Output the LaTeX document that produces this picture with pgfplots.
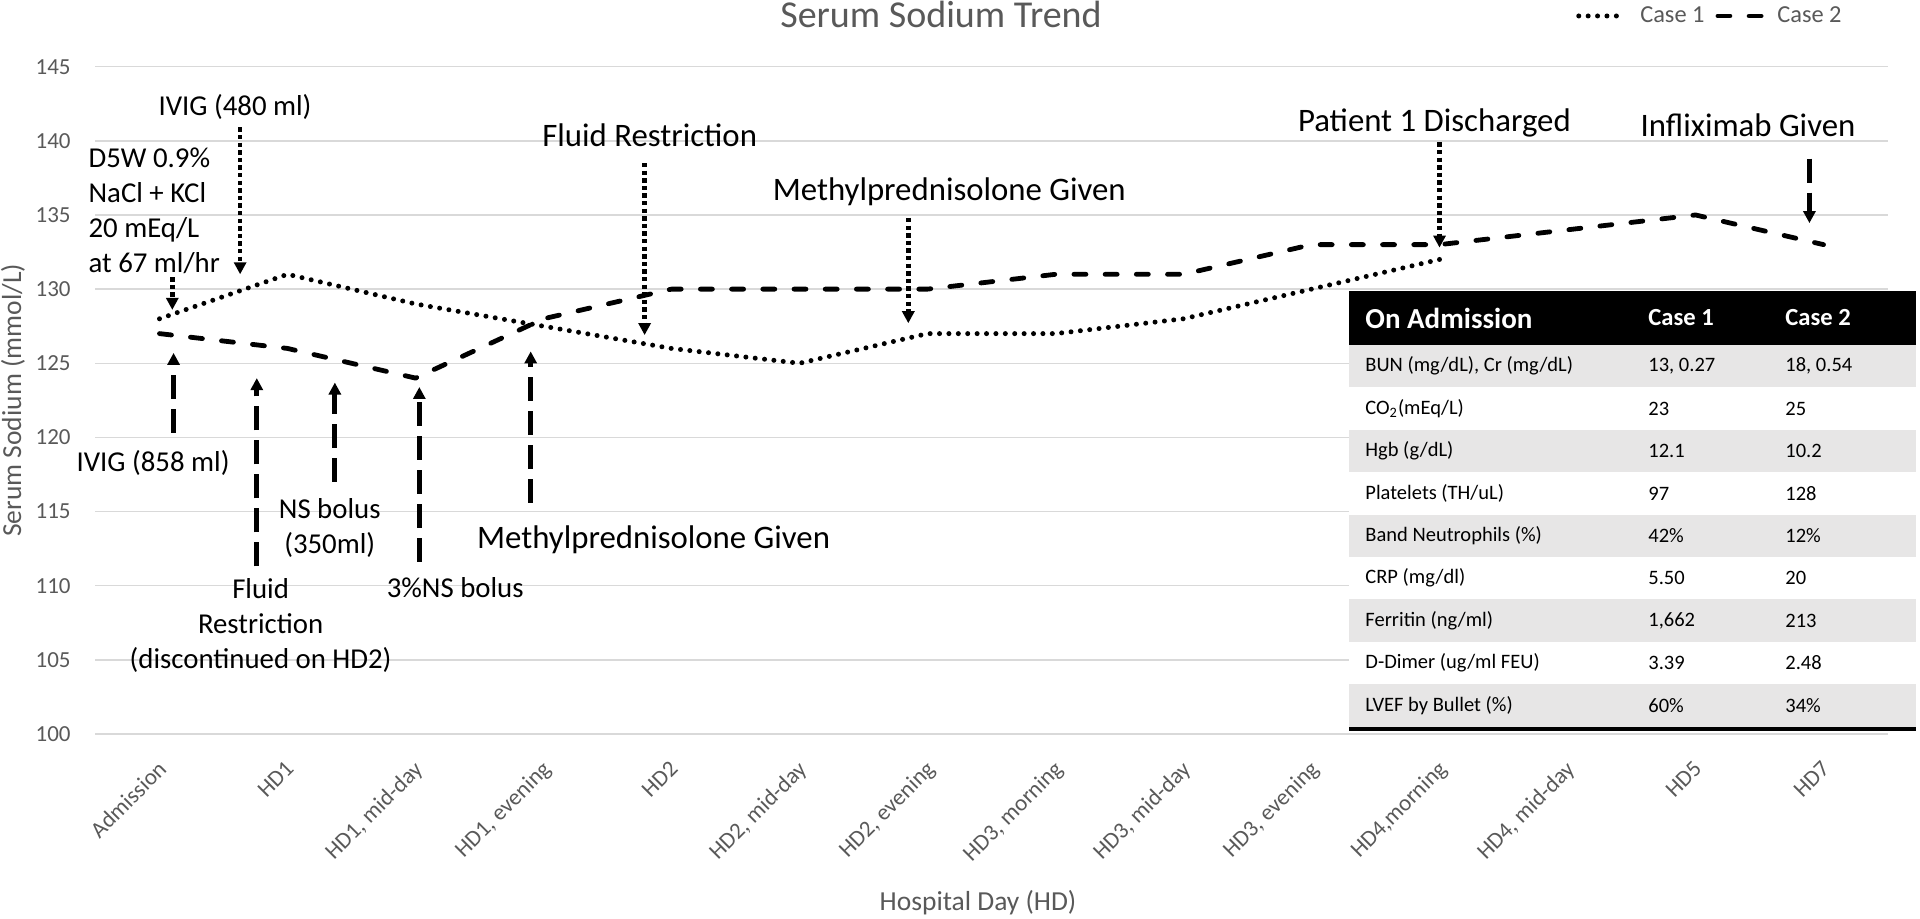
\documentclass[border=0pt]{standalone}
\usepackage{fontspec}
\setmainfont{Carlito}
\usepackage{pgfplots}
\pgfplotsset{compat=1.18}
\usetikzlibrary{arrows.meta}

\definecolor{labgray}{HTML}{595959}
\definecolor{gridgray}{HTML}{D9D9D9}
\definecolor{rowgray}{HTML}{E7E6E6}

\tikzset{
  small note/.style={font=\fontsize{14.4}{17.5}\selectfont, inner sep=0pt, align=center},
  big note/.style={font=\fontsize{16.4}{19.5}\selectfont, inner sep=0pt, align=center},
  dot arrow/.style={line width=2.2pt, dash pattern=on 2.2pt off 1.6pt, -{Triangle[width=6pt,length=6pt]}},
  dash arrow/.style={line width=2.4pt, dash pattern=on 12pt off 5pt, -{Triangle[width=6pt,length=6pt]}},
  cell/.style={anchor=west, inner sep=0pt, font=\fontsize{10.25}{12}\selectfont},
}
\pgfplotsset{
  case one legend/.style={legend image code/.code={\draw[##1] (0pt,0pt) -- (23pt,0pt);}},
  case two legend/.style={legend image code/.code={\draw[##1] (0pt,0pt) -- (22pt,0pt);}},
}

\begin{document}
\begin{tikzpicture}
\useasboundingbox (0,0) rectangle (960pt,459.5pt);
\begin{axis}[
  at={(47.75pt,92.5pt)}, anchor=south west,
  scale only axis, width=896pt, height=333.65pt,
  xmin=-0.5, xmax=13.5, ymin=100, ymax=145,
  xtick={0,...,13},
  xticklabels={Admission,HD1,{HD1, mid-day},{HD1, evening},HD2,{HD2, mid-day},{HD2, evening},{HD3, morning},{HD3, mid-day},{HD3, evening},{HD4,morning},{HD4, mid-day},HD5,HD7},
  ytick={100,105,...,145},
  ymajorgrids, grid style={gridgray, line width=0.7pt},
  axis line style={draw=none}, major tick length=0pt,
  tick label style={font=\fontsize{11.5}{13}\selectfont, text=labgray, inner sep=0pt},
  xticklabel style={xshift=-1.5pt, yshift=-12.5pt, rotate=45, anchor=north east},
  yticklabel style={anchor=east, xshift=-12.25pt},
  /pgf/number format/assume math mode=true,
  xlabel={Hospital Day (HD)},
  xlabel style={at={(axis description cs:0.4925,-0.2533)}, anchor=center, font=\fontsize{13.75}{16}\selectfont, text=labgray, inner sep=0pt},
  ylabel={Serum Sodium (mmol/L)},
  ylabel style={at={(axis description cs:-0.046,0.5)}, anchor=center, font=\fontsize{13.75}{16}\selectfont, text=labgray, inner sep=0pt},
  legend columns=2,
  legend style={at={(axis description cs:0.9746,1.076)}, anchor=east, draw=none, fill=none, inner sep=0pt,
    font=\fontsize{12.2}{14}\selectfont, text=labgray, nodes={inner sep=0pt},
    /tikz/every odd column/.append style={column sep=6.5pt},
    /tikz/every even column/.append style={column sep=5.5pt}},
  clip=false,
]

% Case 1
\addplot[black, line width=2.5pt, line cap=round, line join=round, dash pattern=on 0pt off 4.7pt, case one legend]
coordinates {(0,128) (1,131) (2,129) (3,127.5) (4,126) (5,125) (6,127) (7,127) (8,128) (9,130) (10,132)};
\addlegendentry{Case 1}

% Case 2
\addplot[black, line width=2.4pt, line cap=round, line join=round, dash pattern=on 6pt off 9.6pt, case two legend]
coordinates {(0,127) (1,126) (2,124) (3,128) (4,130) (5,130) (6,130) (7,131) (8,131) (9,133) (10,133) (11,134) (12,135) (13,133)};
\addlegendentry{Case 2}

% notes, left group
\node[small note, align=left, anchor=west] at (axis cs:-0.557,135.3) {D5W 0.9\%\\NaCl + KCl\\20 mEq/L\\at 67 ml/hr};
\node[small note] at (axis cs:0.59,142.3) {IVIG (480 ml)};
\node[small note] at (axis cs:-0.05,118.3) {IVIG (858 ml)};
\node[small note] at (axis cs:0.79,107.35) {Fluid\\Restriction\\(discontinued on HD2)};
\node[small note] at (axis cs:1.33,113.9) {NS bolus\\(350ml)};
\node[small note] at (axis cs:2.31,109.9) {3\%NS bolus};
% notes, larger
\node[big note] at (axis cs:3.83,140.4) {Fluid Restriction};
\node[big note] at (axis cs:3.86,113.1) {Methylprednisolone Given};
\node[big note] at (axis cs:6.17,136.55) {Methylprednisolone Given};
\node[big note] at (axis cs:9.96,141.2) {Patient 1 Discharged};
\node[big note] at (axis cs:12.41,141.07) {Infliximab Given};

% arrows
\draw[dot arrow] (axis cs:0.10,130.8) -- (axis cs:0.10,128.6);
\draw[dot arrow] (axis cs:0.63,140.9) -- (axis cs:0.63,131.0);
\draw[dash arrow] (axis cs:0.11,120.3) -- (axis cs:0.11,125.7);
\draw[dash arrow] (axis cs:0.76,111.3) -- (axis cs:0.76,124.0);
\draw[dash arrow] (axis cs:1.37,117.0) -- (axis cs:1.37,123.7);
\draw[dash arrow] (axis cs:2.03,111.6) -- (axis cs:2.03,123.4);
\draw[dash arrow] (axis cs:2.90,115.6) -- (axis cs:2.90,125.8);
\draw[dot arrow] (axis cs:3.79,138.5) -- (axis cs:3.79,126.9);
\draw[dot arrow] (axis cs:5.85,134.8) -- (axis cs:5.85,127.7);
\draw[dot arrow] (axis cs:10.0,139.9) -- (axis cs:10.0,132.8);
\draw[dash arrow] (axis cs:12.89,138.8) -- (axis cs:12.89,134.45);
\end{axis}

% chart title
\node[anchor=base, inner sep=0pt, text=labgray, font=\fontsize{19}{22}\selectfont] at (470.5pt,445.5pt) {Serum Sodium Trend};

% lab table
\fill[white] (674.5pt,94.2pt) rectangle (958pt,314pt);
\fill[black] (674.5pt,287pt) rectangle (958pt,314pt);
\foreach \t in {287,244.6,202.2,159.8,117.4}
  \fill[rowgray] (674.5pt,\t pt) rectangle (958pt,{(\t-21.2)*1pt});
\fill[black] (674.5pt,94.2pt) rectangle (958pt,96.2pt);

\node[anchor=west, inner sep=0pt, text=white, font=\bfseries\fontsize{14.5}{17}\selectfont] at (682.5pt,300.5pt) {On Admission};
\node[anchor=west, inner sep=0pt, text=white, font=\bfseries\fontsize{12.3}{14}\selectfont] at (824pt,300.5pt) {Case 1};
\node[anchor=west, inner sep=0pt, text=white, font=\bfseries\fontsize{12.3}{14}\selectfont] at (892.5pt,300.5pt) {Case 2};

\node[cell] at (682.5pt,276.4pt) {BUN (mg/dL), Cr (mg/dL)};
\node[cell] at (824pt,276.4pt) {13, 0.27};
\node[cell] at (892.5pt,276.4pt) {18, 0.54};
\node[cell] at (682.5pt,255.2pt) {CO\textsubscript{2}(mEq/L)};
\node[cell] at (824pt,255.2pt) {23};
\node[cell] at (892.5pt,255.2pt) {25};
\node[cell] at (682.5pt,234pt) {Hgb (g/dL)};
\node[cell] at (824pt,234pt) {12.1};
\node[cell] at (892.5pt,234pt) {10.2};
\node[cell] at (682.5pt,212.8pt) {Platelets (TH/uL)};
\node[cell] at (824pt,212.8pt) {97};
\node[cell] at (892.5pt,212.8pt) {128};
\node[cell] at (682.5pt,191.6pt) {Band Neutrophils (\%)};
\node[cell] at (824pt,191.6pt) {42\%};
\node[cell] at (892.5pt,191.6pt) {12\%};
\node[cell] at (682.5pt,170.4pt) {CRP (mg/dl)};
\node[cell] at (824pt,170.4pt) {5.50};
\node[cell] at (892.5pt,170.4pt) {20};
\node[cell] at (682.5pt,149.2pt) {Ferritin (ng/ml)};
\node[cell] at (824pt,149.2pt) {1,662};
\node[cell] at (892.5pt,149.2pt) {213};
\node[cell] at (682.5pt,128pt) {D-Dimer (ug/ml FEU)};
\node[cell] at (824pt,128pt) {3.39};
\node[cell] at (892.5pt,128pt) {2.48};
\node[cell] at (682.5pt,106.8pt) {LVEF by Bullet (\%)};
\node[cell] at (824pt,106.8pt) {60\%};
\node[cell] at (892.5pt,106.8pt) {34\%};
\end{tikzpicture}
\end{document}
